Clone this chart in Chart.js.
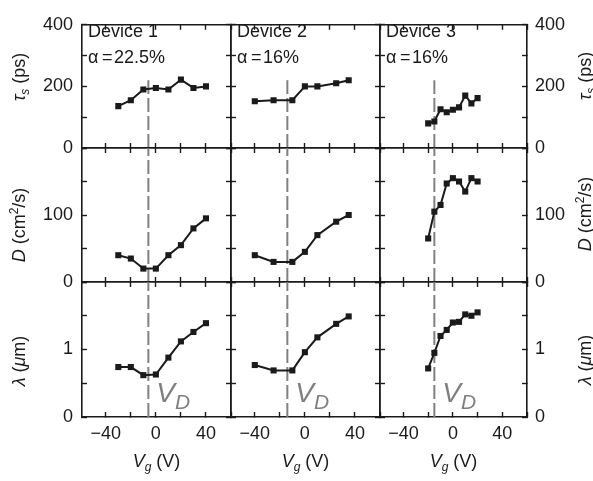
<!DOCTYPE html>
<html>
<head>
<meta charset="utf-8">
<script src="https://cdn.jsdelivr.net/npm/chart.js@4.4.0/dist/chart.umd.min.js"></script>
<style>
body { margin: 0; background: #fff; }
#wrap { position: relative; width: 593px; height: 481px; overflow: hidden; font-family: "Liberation Sans", Arial, sans-serif; color: #1a1a1a; }
#wrap canvas { position: absolute; left: 0; top: 0; }
.lbl { position: absolute; white-space: nowrap; font-size: 18px; line-height: 1; }
.rot { transform: translate(-50%, -50%) rotate(-90deg); }
.ctr { transform: translate(-50%, 0); }
.lbl sub, .lbl sup { font-size: 12px; line-height: 0; }
.lbl sub { vertical-align: -4px; font-style: italic; }
.lbl sup { vertical-align: 7px; }
.vd { color: #7f7f7f; font-style: italic; font-size: 28px; }
.vd sub { font-size: 21px; vertical-align: -7px; }
</style>
</head>
<body>
<div id="wrap"></div>
<script>
// gate voltages (V) for each device
var vg1 = [-30, -20, -10, 0, 10, 20, 30, 40];
var vg2 = [-40, -25, -10, 0, 10, 25, 35];
var vg3 = [-20, -15, -10, -5, 0, 5, 10, 15, 20];

// spin lifetime tau_s (ps)
var tau1 = [136, 155, 190, 195, 190, 222, 195, 200];
var tau2 = [152, 155, 155, 200, 200, 210, 220];
var tau3 = [80, 86, 126, 116, 124, 132, 170, 145, 162];

// diffusion constant D (cm2/s)
var d1 = [40, 35, 20, 20, 40, 55, 80, 95];
var d2 = [40, 30, 30, 45, 70, 90, 100];
var d3 = [65, 105, 115, 147, 155, 150, 135, 155, 150];

// spin relaxation length lambda (um)
var lam1 = [0.74, 0.74, 0.62, 0.63, 0.88, 1.12, 1.26, 1.39];
var lam2 = [0.77, 0.69, 0.69, 0.96, 1.18, 1.38, 1.49];
var lam3 = [0.72, 0.95, 1.2, 1.29, 1.4, 1.41, 1.52, 1.5, 1.55];

// Dirac point and device info
var vDirac = [-6, -14, -15];
var devices = ["Device 1", "Device 2", "Device 3"];
var alphas = ["22.5%", "16%", "16%"];

// axis ranges and labelled ticks
var xRange = [-59, 60];
var xTicks = [-40, 0, 40];
var yMax = [400, 200, 2];
var yStep = [100, 50, 0.5];
var tauTicks = [0, 200, 400];
var dTicks = [0, 100];
var lamTicks = [0, 1];
var vdTop = [220, 200, 2];

var vgData = [vg1, vg2, vg3];
var values = [[tau1, tau2, tau3], [d1, d2, d3], [lam1, lam2, lam3]];
var yTicks = [tauTicks, dTicks, lamTicks];

// panel rectangles in page pixels
var cols = [[82, 231], [231, 380], [380, 527]];
var rows = [[14, 148], [148, 282], [282, 417]];
var yAxisW = 60, xAxisH = 40;

var wrap = document.getElementById("wrap");
var ink = "#1a1a1a";
var tickFont = { family: "'Liberation Sans', Arial, sans-serif", size: 18 };

function addText(html, cls, left, top) {
	var el = document.createElement("div");
	el.className = "lbl " + cls;
	el.innerHTML = html;
	el.style.left = left + "px";
	el.style.top = top + "px";
	wrap.appendChild(el);
	return el;
}

// size = fixed box size of the axis (labels are clipped to it)
function axis(pos, min, max, step, labels, show, pad, size) {
	var vertical = (pos == "left" || pos == "right");
	return {
		type: "linear",
		position: pos,
		min: min,
		max: max,
		afterFit: function(s) {
			if (vertical) { s.width = size; } else { s.height = size; }
		},
		border: { display: true, color: ink, width: 1.6 },
		grid: { display: true, drawOnChartArea: false, drawTicks: true, tickLength: -5, tickWidth: 1.4, tickColor: ink },
		ticks: {
			stepSize: step,
			includeBounds: false,
			autoSkip: false,
			maxRotation: 0,
			padding: pad,
			color: ink,
			font: tickFont,
			callback: function(v) {
				if (!show || labels.indexOf(v) < 0) { return ""; }
				return String(v).replace("-", "\u2212");
			}
		}
	};
}

function makePanel(r, c) {
	var canvas = document.createElement("canvas");
	canvas.width = 593;
	canvas.height = 481;
	wrap.appendChild(canvas);

	var xs = vgData[c];
	var ys = values[r][c];
	var pts = xs.map(function(x, i) { return { x: x, y: ys[i] }; });
	var vd = [{ x: vDirac[c], y: 0 }, { x: vDirac[c], y: vdTop[r] }];

	var chart = new Chart(canvas.getContext("2d"), {
		type: "scatter",
		data: {
			datasets: [{
				data: pts,
				showLine: true,
				borderColor: ink,
				backgroundColor: ink,
				borderWidth: 2,
				pointStyle: "rect",
				pointRadius: 4.3,
				pointBorderWidth: 0
			}, {
				data: vd,
				showLine: true,
				borderColor: "#808080",
				borderWidth: 2,
				borderDash: [14, 4],
				pointRadius: 0
			}]
		},
		options: {
			responsive: false,
			animation: false,
			devicePixelRatio: 1,
			layout: { padding: {
				left: cols[c][0] - yAxisW,
				top: rows[r][0],
				right: 593 - cols[c][1] - yAxisW,
				bottom: 481 - rows[r][1] - xAxisH
			} },
			plugins: { legend: { display: false }, tooltip: { enabled: false } },
			scales: {
				x: axis("bottom", xRange[0], xRange[1], 20, xTicks, r == 2, 11, xAxisH),
				xTop: axis("top", xRange[0], xRange[1], 20, xTicks, false, 11, 0),
				y: axis("left", 0, yMax[r], yStep[r], yTicks[r], c == 0, 14, yAxisW),
				yRight: axis("right", 0, yMax[r], yStep[r], yTicks[r], c == 2, 13, yAxisW)
			}
		}
	});

	if (r == 2) {
		var px = chart.scales.x.getPixelForValue(vDirac[c]);
		addText("V<sub>D</sub>", "vd", px + 8, 379);
	}
	return chart;
}

for (var r = 0; r < 3; r++) {
	for (var c = 0; c < 3; c++) {
		makePanel(r, c);
	}
}

// device names and alpha
for (var c = 0; c < 3; c++) {
	addText(devices[c], "", cols[c][0] + 6, 22);
	addText("\u03b1\u2009=\u200a" + alphas[c], "", cols[c][0] + 6, 48);
	addText("<i>V</i><sub>g</sub> (V)", "ctr", (cols[c][0] + cols[c][1]) / 2, 452);
}

// y axis titles, left and right
var yTitles = ["<i>\u03c4</i><sub>s</sub> (ps)", "<i>D</i> (cm<sup>2</sup>/s)", "<i>\u03bb</i> (<i>\u03bc</i>m)"];
var leftY = [77, 225, 361];
var rightY = [76, 214, 360];
for (var r = 0; r < 3; r++) {
	addText(yTitles[r], "rot", 19, leftY[r]);
	addText(yTitles[r], "rot", 585, rightY[r]);
}
</script>
</body>
</html>
